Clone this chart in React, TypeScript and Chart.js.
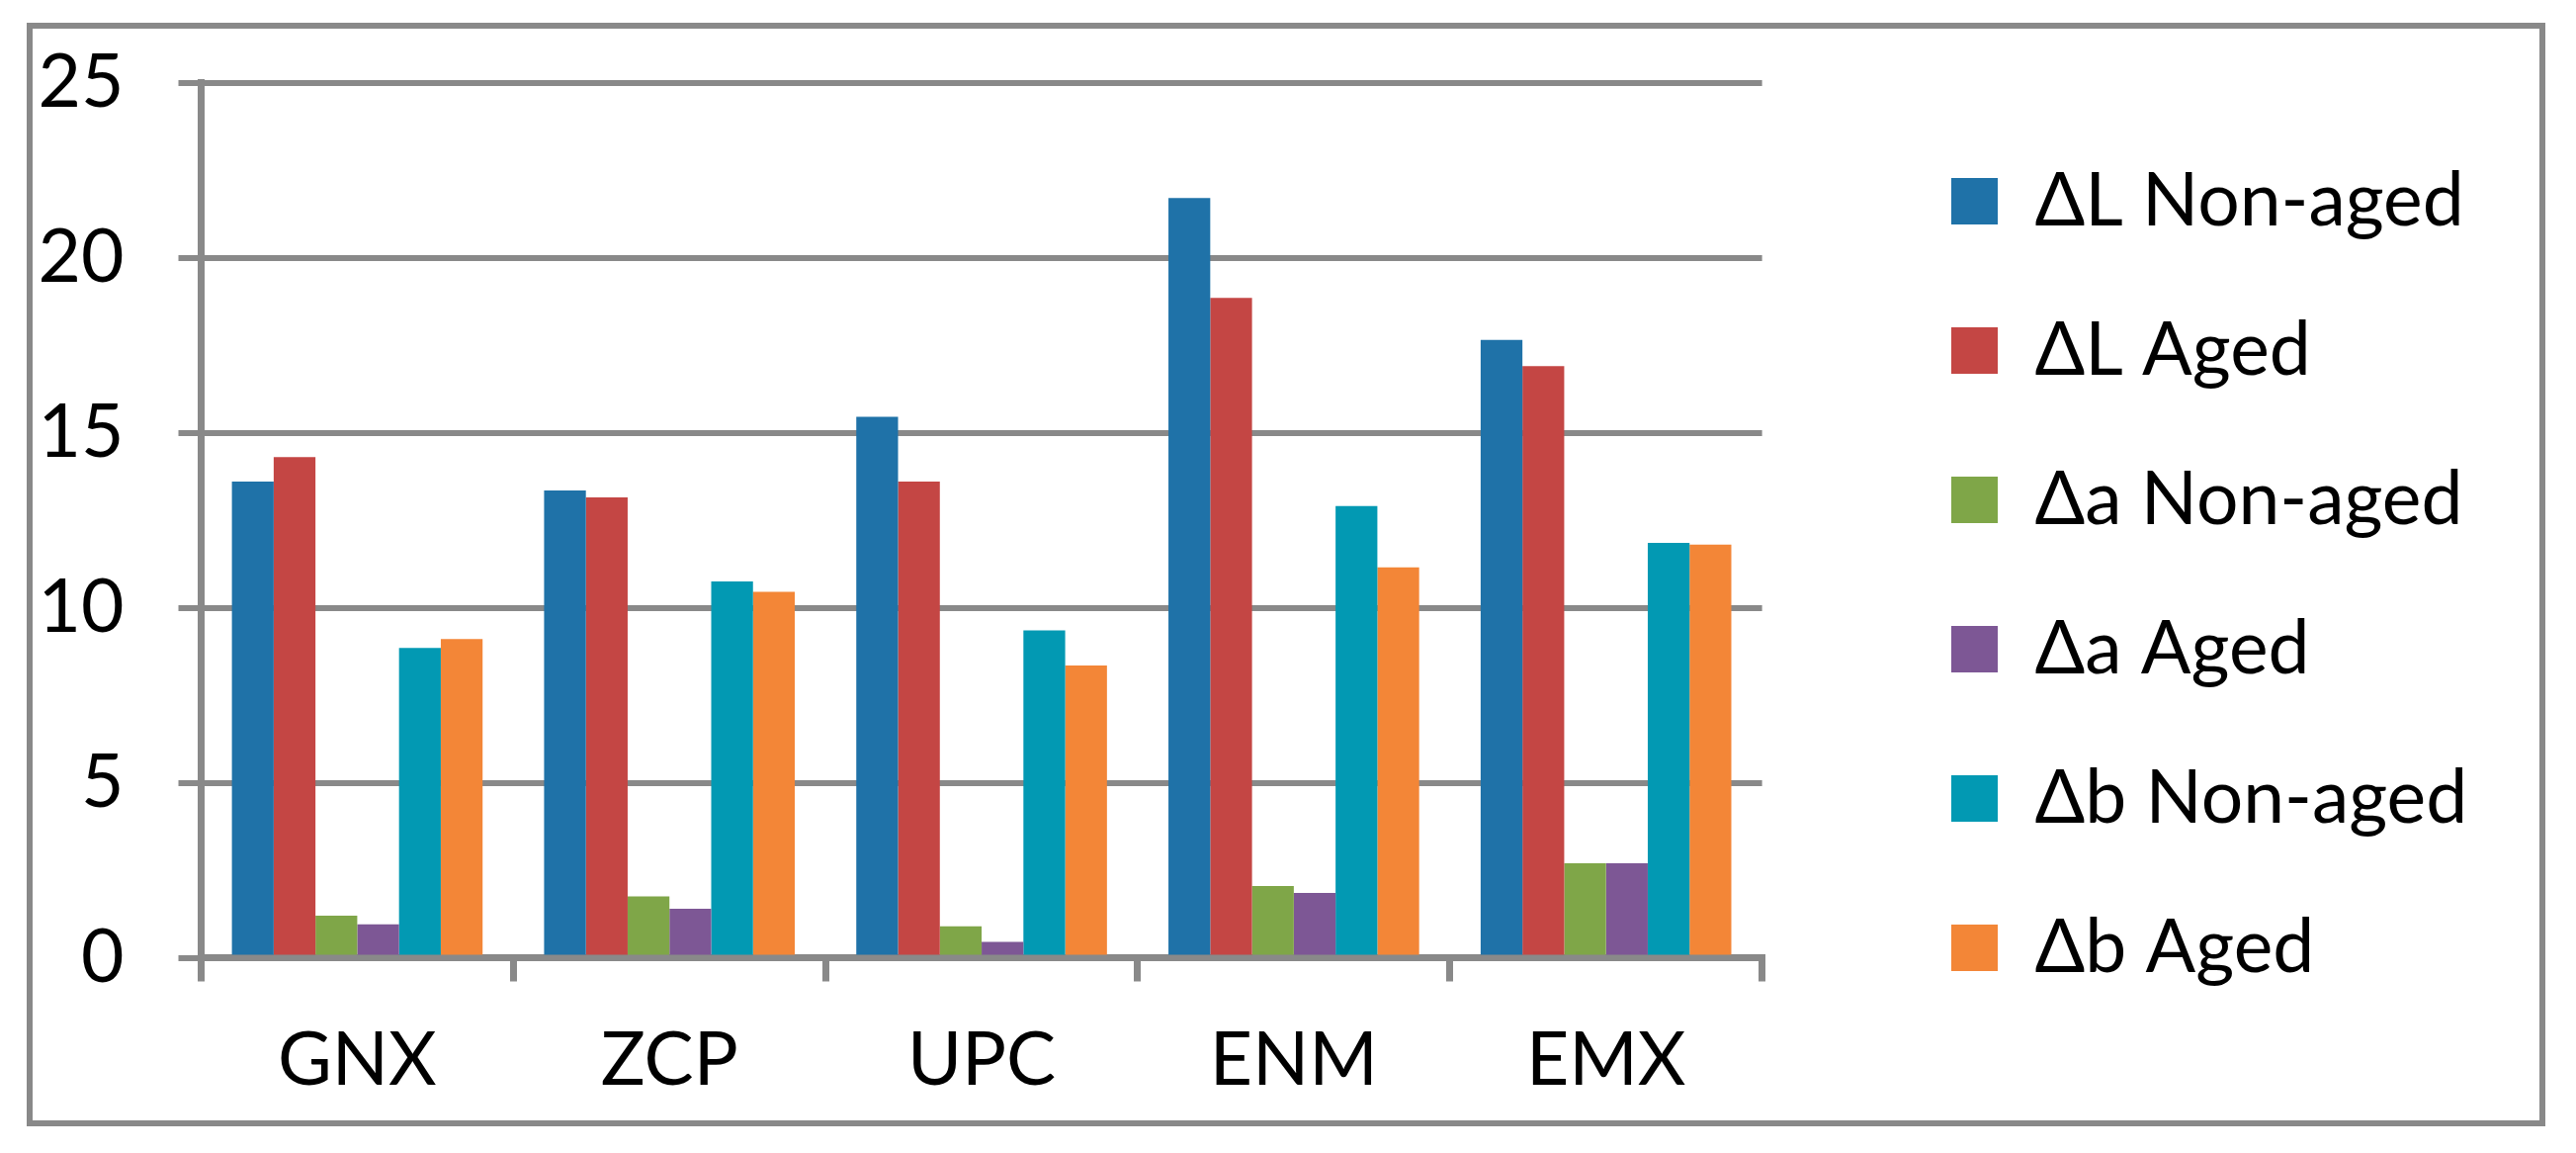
import React, { useEffect, useRef } from "react";
import { Chart, registerables } from "chart.js";

Chart.register(...registerables);

const categories = ["GNX", "ZCP", "UPC", "ENM", "EMX"];
const seriesNames = ["ΔL Non-aged", "ΔL Aged", "Δa Non-aged", "Δa Aged", "Δb Non-aged", "Δb Aged"];
const dLNonAged = [13.6, 13.35, 15.45, 21.7, 17.65];
const dLAged = [14.3, 13.15, 13.6, 18.85, 16.9];
const daNonAged = [1.2, 1.75, 0.9, 2.05, 2.7];
const daAged = [0.95, 1.4, 0.45, 1.85, 2.7];
const dbNonAged = [8.85, 10.75, 9.35, 12.9, 11.85];
const dbAged = [9.1, 10.45, 8.35, 11.15, 11.8];
const seriesColors = ["#1F72A8", "#C44644", "#7FA648", "#7D5795", "#0299B3", "#F38637"];
const yTicks = [0, 5, 10, 15, 20, 25];

const GRID = "#898989";
const FONT = "Lato, 'Open Sans', sans-serif";
const FONT_SIZE = 75;

export default function App() {
  const ref = useRef<HTMLCanvasElement | null>(null);

  useEffect(() => {
    const canvas = ref.current;
    if (!canvas) return;
    const values = [dLNonAged, dLAged, daNonAged, daAged, dbNonAged, dbAged];

    // Measure widest legend label to place the legend box precisely.
    const mctx = canvas.getContext("2d")!;
    mctx.font = `normal ${FONT_SIZE}px ${FONT}`;
    let tw = 0;
    seriesNames.forEach((n) => {
      tw = Math.max(tw, mctx.measureText(n).width);
    });
    const legendPad = 76;
    const boxW = 47;
    // Chart.js adds 10px to the width of a vertical legend
    const legendWidth = legendPad + boxW + FONT_SIZE / 2 + tw + 10;
    const legendLeft = 1898;
    const padRight = Math.max(0, 2606 - legendLeft - legendWidth);

    const chart = new Chart(canvas, {
      type: "bar",
      data: {
        labels: categories,
        datasets: seriesNames.map((name, i) => ({
          label: name,
          data: values[i],
          backgroundColor: seriesColors[i],
          borderWidth: 0,
          categoryPercentage: 0.803,
          barPercentage: 1,
          yAxisID: "y",
        })),
      },
      options: {
        animation: false,
        responsive: false,
        devicePixelRatio: 1,
        layout: { padding: { left: 0, top: 0, right: padRight, bottom: 4 } },
        plugins: {
          tooltip: { enabled: false },
          title: {
            display: true,
            text: "",
            fullSize: false,
            font: { size: 10, lineHeight: 1 },
            padding: { top: 73.5, bottom: 0 },
          },
          legend: {
            display: true,
            position: "right",
            align: "center",
            maxWidth: 1000,
            labels: {
              boxWidth: boxW,
              boxHeight: 47,
              padding: legendPad,
              color: "#000000",
              font: { family: FONT, size: FONT_SIZE, lineHeight: 1.2 },
            },
          },
        },
        scales: {
          x: {
            type: "category",
            offset: true,
            grid: {
              display: true,
              offset: true,
              drawOnChartArea: false,
              drawTicks: true,
              tickLength: 24,
              lineWidth: 7,
              color: GRID,
            },
            border: { display: true, color: GRID, width: 7 },
            ticks: {
              color: "#000000",
              padding: 35.5,
              maxRotation: 0,
              font: { family: FONT, size: FONT_SIZE, lineHeight: 1.2 },
            },
            afterFit: (s: any) => {
              s.height = 193.5;
            },
          },
          y: {
            type: "linear",
            position: "left",
            min: 0,
            max: 25,
            afterBuildTicks: (s: any) => {
              s.ticks = yTicks.map((v) => ({ value: v }));
            },
            grid: {
              display: true,
              drawTicks: true,
              tickLength: 23,
              lineWidth: 6,
              color: GRID,
            },
            border: { display: true, color: GRID, width: 7 },
            ticks: {
              color: "#000000",
              padding: 55,
              font: { family: FONT, size: FONT_SIZE, lineHeight: 0.4 },
            },
            afterFit: (s: any) => {
              s.width = 203.5;
            },
          },
          y2: {
            type: "linear",
            position: "right",
            display: true,
            grid: { display: false, drawTicks: false },
            border: { display: false },
            ticks: { display: false },
            afterFit: (s: any) => {
              s.width = 2606 - 0 - 1782.6 - (2606 - legendLeft) ;
            },
          },
        },
      },
    });
    return () => chart.destroy();
  }, []);

  return (
    <div
      style={{
        position: "fixed",
        left: 0,
        top: 0,
        width: 2606,
        height: 1166,
        background: "#ffffff",
      }}
    >
      <canvas
        ref={ref}
        width={2606}
        height={1166}
        style={{ position: "absolute", left: 0, top: 0, width: 2606, height: 1166 }}
      />
      <div
        style={{
          position: "absolute",
          left: 27,
          top: 23,
          width: 2548,
          height: 1116,
          boxSizing: "border-box",
          border: "6px solid #898989",
          pointerEvents: "none",
        }}
      />
    </div>
  );
}
